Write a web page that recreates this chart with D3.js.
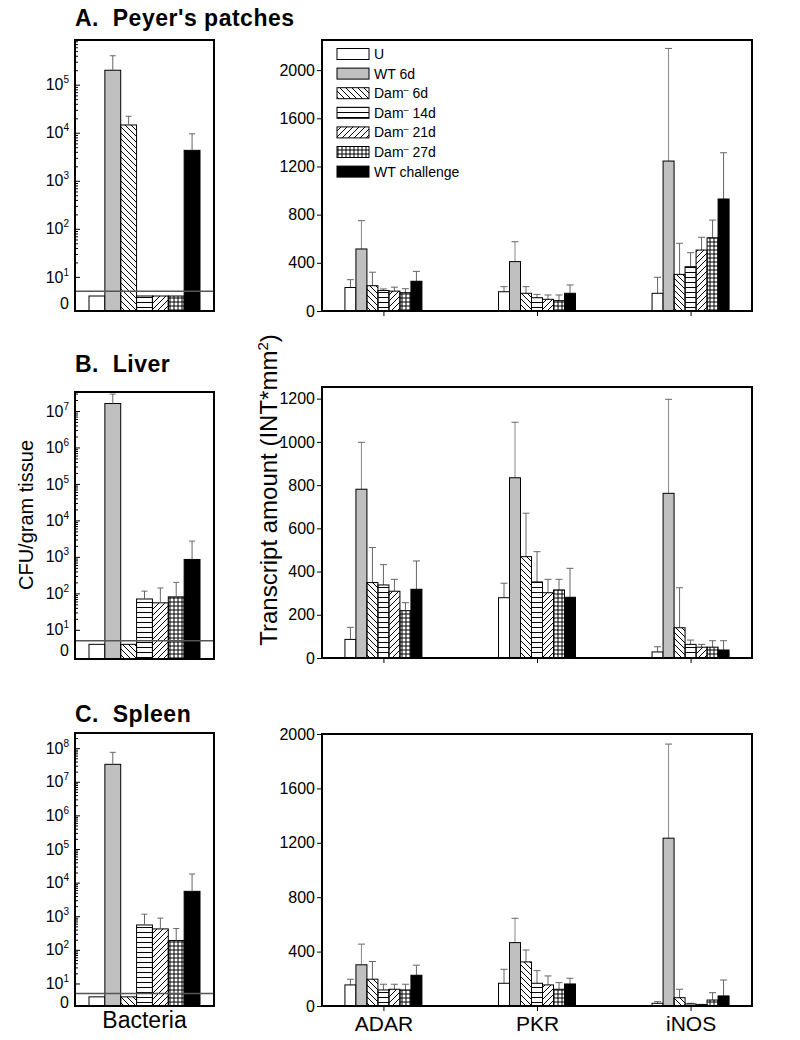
<!DOCTYPE html>
<html>
<head>
<meta charset="utf-8">
<script src="https://cdn.jsdelivr.net/npm/d3@7"></script>
<style>
body { margin: 0; background: #fff; }
svg { display: block; font-family: "Liberation Sans", Arial, sans-serif; }
</style>
</head>
<body>
<div id="chart"></div>
<script>
// groups and genes
const series = ["U", "WT 6d", "Dam 6d", "Dam 14d", "Dam 21d", "Dam 27d", "WT challenge"];
const genes = ["ADAR", "PKR", "iNOS"];
const titles = ["A.  Peyer's patches", "B.  Liver", "C.  Spleen"];

// bacteria, CFU/gram tissue (0 = none recovered), and top of error bar
const ppBact   = [0, 2.0e5, 1.45e4, 0, 0, 0, 4.3e3];
const ppBactHi = [0, 4.0e5, 2.2e4, 0, 0, 0, 9.5e3];
const livBact   = [0, 1.6e7, 0, 70, 55, 80, 850];
const livBactHi = [0, 2.9e7, 0, 115, 140, 200, 2.7e3];
const splBact   = [0, 3.3e7, 0, 550, 420, 190, 5.5e3];
const splBactHi = [0, 7.5e7, 0, 1.15e3, 880, 430, 1.8e4];

// transcript amounts, rows = genes (ADAR, PKR, iNOS), cols = series
const ppMean = [[195, 515, 210, 170, 165, 152, 247],
                [160, 410, 147, 110, 97, 86, 147],
                [147, 1245, 304, 368, 506, 608, 930]];
const ppSd   = [[65, 235, 112, 13, 33, 33, 82],
                [42, 165, 55, 28, 36, 47, 69],
                [133, 935, 258, 116, 106, 147, 384]];
const livMean = [[86, 781, 349, 338, 309, 219, 318],
                 [279, 834, 469, 352, 302, 315, 281],
                 [28, 762, 140, 63, 50, 50, 37]];
const livSd   = [[56, 217, 162, 94, 55, 37, 131],
                 [67, 257, 201, 140, 62, 49, 134],
                 [24, 435, 185, 20, 13, 30, 43]];
const splMean = [[155, 303, 197, 118, 123, 118, 226],
                 [167, 466, 324, 167, 155, 123, 162],
                 [20, 1234, 61, 15, 10, 44, 74]];
const splSd   = [[42, 152, 130, 42, 37, 42, 74],
                 [103, 179, 88, 93, 66, 49, 42],
                 [12, 692, 62, 5, 2, 54, 117]];

const ppTicks = [0, 400, 800, 1200, 1600, 2000];
const livTicks = [0, 200, 400, 600, 800, 1000, 1200];
const splTicks = [0, 400, 800, 1200, 1600, 2000];

const DETECT = 5;       // detection limit line
const ZERO_PLOT = 4;    // where "0" bars end on the log axis
const ZERO_LABEL = 2.8; // where the "0" tick label sits

const LX0 = 75, LX1 = 214, RX0 = 322, RX1 = 752;

const svg = d3.select("#chart").append("svg")
    .attr("width", 800)
    .attr("height", 1040);

// hatch patterns
const defs = svg.append("defs");
function pattern(id, w, h, d) {
    defs.append("pattern").attr("id", id)
        .attr("patternUnits", "userSpaceOnUse")
        .attr("width", w).attr("height", h)
        .append("path").attr("d", d)
        .attr("stroke", "#000").attr("stroke-width", 1).attr("fill", "none");
}
pattern("hDown", 6, 6, "M0,0L6,6M-1,5L1,7M5,-1L7,1");
pattern("hUp", 6, 6, "M0,6L6,0M-1,1L1,-1M5,7L7,5");
pattern("hHoriz", 6, 5, "M0,2.5H6");
pattern("hGrid", 4, 4, "M0,2H4M2,0V4");

const fills = ["#fff", "#c0c0c0", "url(#hDown)", "url(#hHoriz)", "url(#hUp)", "url(#hGrid)", "#000"];

const rows = [
    { title: titles[0], ty: 26, lTop: 40, lBot: 311, exp: [0.29, 5.93],
      rTop: 40, rBot: 311, max: 2250, ticks: ppTicks,
      bact: ppBact, hi: ppBactHi, mean: ppMean, sd: ppSd },
    { title: titles[1], ty: 372, lTop: 392, lBot: 659, exp: [0.2, 7.52],
      rTop: 387, rBot: 658, max: 1254, ticks: livTicks,
      bact: livBact, hi: livBactHi, mean: livMean, sd: livSd },
    { title: titles[2], ty: 722, lTop: 733, lBot: 1006, exp: [0.33, 8.45],
      rTop: 734, rBot: 1006, max: 2000, ticks: splTicks,
      bact: splBact, hi: splBactHi, mean: splMean, sd: splSd }
];

function drawLeft(cfg) {
    const g = svg.append("g");
    const y = d3.scaleLog().domain([10 ** cfg.exp[0], 10 ** cfg.exp[1]]).range([cfg.lBot, cfg.lTop]);
    const x = d3.scaleBand().domain(series).range([LX0 + 14, LX0 + 125]);
    const yv = v => v === 0 ? y(ZERO_PLOT) : y(v);

    g.selectAll("rect.bar").data(cfg.bact).join("rect")
        .attr("class", "bar")
        .attr("x", (d, i) => x(series[i]))
        .attr("width", x.bandwidth())
        .attr("y", d => yv(d))
        .attr("height", d => cfg.lBot - yv(d))
        .attr("fill", (d, i) => fills[i])
        .attr("stroke", "#000").attr("stroke-width", 1);

    const err = cfg.bact.map((d, i) => ({ v: d, hi: cfg.hi[i], s: series[i] })).filter(d => d.v > 0);
    const cx = d => x(d.s) + x.bandwidth() / 2;
    g.selectAll("line.eb").data(err).join("line")
        .attr("x1", cx).attr("x2", cx)
        .attr("y1", d => y(d.v)).attr("y2", d => y(d.hi))
        .attr("stroke", "#666");
    g.selectAll("line.cap").data(err).join("line")
        .attr("x1", d => cx(d) - 3).attr("x2", d => cx(d) + 3)
        .attr("y1", d => y(d.hi)).attr("y2", d => y(d.hi))
        .attr("stroke", "#666");

    g.append("line")
        .attr("x1", LX0).attr("x2", LX1)
        .attr("y1", y(DETECT)).attr("y2", y(DETECT))
        .attr("stroke", "#555").attr("stroke-width", 1.5);

    g.append("rect")
        .attr("x", LX0).attr("y", cfg.lTop)
        .attr("width", LX1 - LX0).attr("height", cfg.lBot - cfg.lTop)
        .attr("fill", "none").attr("stroke", "#000").attr("stroke-width", 2);

    const top = 10 ** cfg.exp[1];
    const major = d3.range(1, Math.floor(cfg.exp[1]) + 1).map(e => 10 ** e);
    const minor = [];
    major.forEach(m => { for (let k = 2; k <= 9; k++) if (k * m <= top) minor.push(k * m); });

    const ax = g.append("g").attr("transform", "translate(" + LX0 + ",0)")
        .call(d3.axisLeft(y).tickValues(major).tickSize(-5).tickPadding(6).tickFormat(d => d));
    ax.select(".domain").remove();
    ax.selectAll("text").attr("font-size", "16px").attr("fill", "#000").attr("font-family", null)
        .each(function (d) {
            const t = d3.select(this);
            t.text(null);
            t.append("tspan").text("10");
            t.append("tspan").attr("dy", -7).attr("font-size", "10px").text(Math.round(Math.log10(d)));
        });
    const mx = g.append("g").attr("transform", "translate(" + LX0 + ",0)")
        .call(d3.axisLeft(y).tickValues(minor).tickSize(-3).tickFormat(""));
    mx.select(".domain").remove();

    g.append("text")
        .attr("x", LX0 - 6).attr("y", y(ZERO_LABEL)).attr("dy", "0.35em")
        .attr("text-anchor", "end").attr("font-size", "16px")
        .text("0");
}

function drawRight(cfg, last) {
    const g = svg.append("g");
    const y = d3.scaleLinear().domain([0, cfg.max]).range([cfg.rBot, cfg.rTop]);
    const x0 = d3.scalePoint().domain(genes).range([RX0, RX1]).padding(0.4);
    const x1 = d3.scaleBand().domain(series).range([-38.5, 38.5]);

    const bars = [];
    genes.forEach((gn, gi) => series.forEach((s, si) => {
        bars.push({ g: gn, s: s, si: si, m: cfg.mean[gi][si], e: cfg.sd[gi][si] });
    }));
    const cx = d => x0(d.g) + x1(d.s) + x1.bandwidth() / 2;

    g.selectAll("line.eb").data(bars).join("line")
        .attr("x1", cx).attr("x2", cx)
        .attr("y1", d => y(d.m)).attr("y2", d => y(d.m + d.e))
        .attr("stroke", d => d.si === 1 ? "#888" : "#666");
    g.selectAll("line.cap").data(bars).join("line")
        .attr("x1", d => cx(d) - 3.5).attr("x2", d => cx(d) + 3.5)
        .attr("y1", d => y(d.m + d.e)).attr("y2", d => y(d.m + d.e))
        .attr("stroke", "#666");

    g.selectAll("rect.bar").data(bars).join("rect")
        .attr("x", d => x0(d.g) + x1(d.s))
        .attr("width", x1.bandwidth())
        .attr("y", d => y(d.m))
        .attr("height", d => cfg.rBot - y(d.m))
        .attr("fill", d => fills[d.si])
        .attr("stroke", "#000").attr("stroke-width", 1);

    g.append("rect")
        .attr("x", RX0).attr("y", cfg.rTop)
        .attr("width", RX1 - RX0).attr("height", cfg.rBot - cfg.rTop)
        .attr("fill", "none").attr("stroke", "#000").attr("stroke-width", 2);

    const ay = g.append("g").attr("transform", "translate(" + RX0 + ",0)")
        .call(d3.axisLeft(y).tickValues(cfg.ticks).tickSize(5).tickPadding(2).tickFormat(d3.format("d")));
    ay.select(".domain").remove();
    ay.selectAll("text").attr("font-size", "16px").attr("fill", "#000").attr("font-family", null);

    const axx = g.append("g").attr("transform", "translate(0," + cfg.rBot + ")")
        .call(d3.axisBottom(x0).tickSize(5).tickPadding(5).tickFormat(d => last ? d : ""));
    axx.select(".domain").remove();
    axx.selectAll("text").attr("font-size", "21px").attr("fill", "#000").attr("font-family", null);
}

rows.forEach((r, i) => {
    svg.append("text")
        .attr("x", 75).attr("y", r.ty)
        .attr("font-size", "23px").attr("font-weight", "bold")
        .attr("letter-spacing", "0.5px")
        .attr("xml:space", "preserve")
        .text(r.title);
    drawLeft(r);
    drawRight(r, i === rows.length - 1);
});

// legend
const leg = svg.append("g");
series.forEach((s, i) => {
    const yy = 54 + i * 19.6;
    leg.append("rect")
        .attr("x", 337).attr("y", yy - 5.5)
        .attr("width", 32).attr("height", 11)
        .attr("fill", fills[i]).attr("stroke", "#000");
    const t = leg.append("text")
        .attr("x", 374).attr("y", yy).attr("dy", "0.36em")
        .attr("font-size", "14px")
        .attr("xml:space", "preserve");
    if (s.startsWith("Dam")) {
        t.append("tspan").text("Dam");
        t.append("tspan").attr("dy", -5).attr("font-size", "9px").text("\u2013");
        t.append("tspan").attr("dy", 5).text(" " + s.slice(4));
    } else {
        t.text(s);
    }
});

// axis titles
svg.append("text")
    .attr("transform", "translate(33,515) rotate(-90)")
    .attr("text-anchor", "middle").attr("font-size", "20px")
    .text("CFU/gram tissue");

const yt = svg.append("text")
    .attr("transform", "translate(277,490) rotate(-90)")
    .attr("text-anchor", "middle").attr("font-size", "24px");
yt.append("tspan").text("Transcript amount (INT*mm");
yt.append("tspan").attr("dy", -9).attr("font-size", "15px").text("2");
yt.append("tspan").attr("dy", 9).text(")");

svg.append("text")
    .attr("x", 144.5).attr("y", 1028)
    .attr("text-anchor", "middle").attr("font-size", "23px")
    .text("Bacteria");
</script>
</body>
</html>
